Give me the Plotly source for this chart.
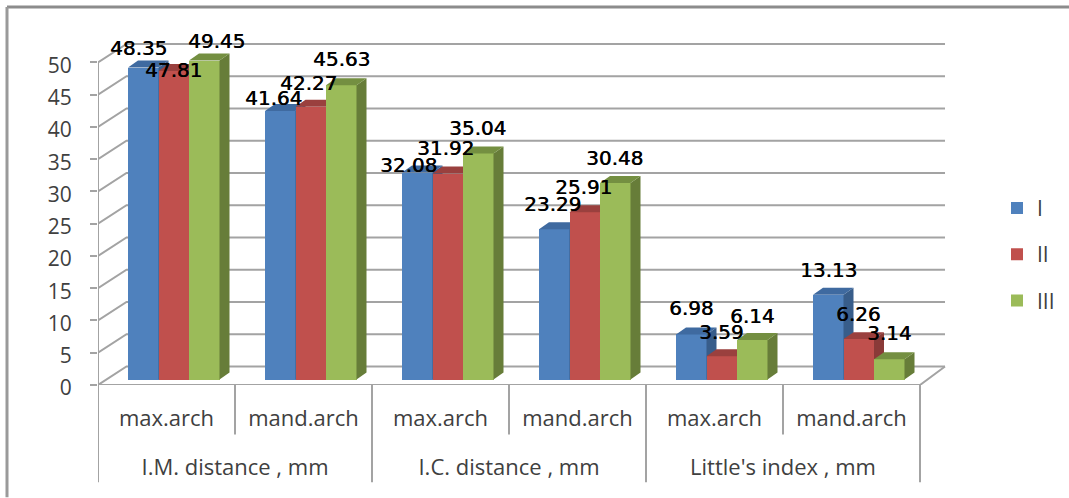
import plotly.graph_objects as go

subgroups = ["max.arch", "mand.arch", "max.arch", "mand.arch", "max.arch", "mand.arch"]
groups = ["I.M. distance , mm", "I.C. distance , mm", "Little's index , mm"]
series_names = ["I", "II", "III"]
series_I = [48.35, 41.64, 32.08, 23.29, 6.98, 13.13]
series_II = [47.81, 42.27, 31.92, 25.91, 3.59, 6.26]
series_III = [49.45, 45.63, 35.04, 30.48, 6.14, 3.14]
y_ticks = [0, 5, 10, 15, 20, 25, 30, 35, 40, 45, 50]

front_colors = ["#4F81BD", "#C0504D", "#9BBB59"]
side_colors = ["#385D8A", "#8A3A38", "#677D39"]
top_colors = ["#3F6AA0", "#9A403E", "#748F41"]

# label nudges in pixels relative to the top-centre of each bar's front face
label_dx = [-5, 0, 12, -7, -2, 0, -9, -2, -1, -2, -1, -1, 0, 0, 0, 0, 0, 0]
label_dy = [-20, -1, -20, -13, -24, -26, -8, -26, -25, -25, -25, -25, -26, -24, -24, -25, -25, -26]

W, H = 1069, 498
PX_L, PX_R, PX_T, PX_FLOOR, PX_BAR0 = 98, 948, 20, 385.5, 380
UNIT_X, UNIT_Y = 137.0, 6.46
x_range = [0, (PX_R - PX_L) / UNIT_X]
y_top = (PX_FLOOR - PX_T) / UNIT_Y
bar_bottom = -(PX_FLOOR - PX_BAR0) / UNIT_Y
bar_width = 30.5 / UNIT_X
bar_start = 30.0 / UNIT_X
side_dx, side_dy = 10.0 / UNIT_X, 7.0 / UNIT_Y
wall_dx, wall_dy = 28.5 / UNIT_X, 18.5 / UNIT_Y
wall_right = 6 + 25.0 / UNIT_X
GRID = "#A3A3A3"
TEXT = "#404040"

fig = go.Figure()

# back wall: grid lines, wall slants and floor, on the base axes (behind everything)
gx, gy = [], []
for t in y_ticks:
    gx += [0, wall_dx, wall_right, None]
    gy += [t, t + wall_dy, t + wall_dy, None]
gx += [0, 0, None, 0, 6, wall_right]
gy += [0, y_ticks[-1], None, 0, 0, wall_dy]
fig.add_trace(go.Scatter(x=gx, y=gy, mode="lines", line=dict(color=GRID, width=2),
                         hoverinfo="skip", showlegend=False, cliponaxis=False,
                         xaxis="x", yaxis="y"))

all_series = [series_I, series_II, series_III]
for s, vals in enumerate(all_series):
    xa, ya = f"x{s+2}", f"y{s+2}"
    xs = [k + bar_start + (s + 0.5) * bar_width for k in range(len(vals))]
    fig.add_trace(go.Bar(x=xs, y=vals, width=bar_width, name=series_names[s],
                         marker=dict(color=front_colors[s], line=dict(width=0)),
                         legendgroup=series_names[s], xaxis=xa, yaxis=ya,
                         cliponaxis=False, hoverinfo="skip"))
    sx, sy, tx, ty = [], [], [], []
    for xc, v in zip(xs, vals):
        xl, xr = xc - bar_width / 2, xc + bar_width / 2
        sx += [xr, xr + side_dx, xr + side_dx, xr, xr, None]
        sy += [0, side_dy, v + side_dy, v, 0, None]
        tx += [xl, xl + side_dx, xr + side_dx, xr, xl, None]
        ty += [v, v + side_dy, v + side_dy, v, v, None]
    for px, py, col in ((sx, sy, side_colors[s]), (tx, ty, top_colors[s])):
        fig.add_trace(go.Scatter(x=px, y=py, mode="lines", fill="toself", fillcolor=col,
                                 line=dict(width=0, color=col), hoverinfo="skip",
                                 showlegend=False, xaxis=xa, yaxis=ya, cliponaxis=False))

# data labels
annotations = []
i = 0
for k in range(6):
    for s, vals in enumerate(all_series):
        annotations.append(dict(
            x=k + bar_start + (s + 0.5) * bar_width, y=vals[k], xref="x4", yref="y4",
            text=f"{vals[k]:.2f}", showarrow=False, xanchor="center", yanchor="middle",
            xshift=label_dx[i], yshift=-label_dy[i],
            font=dict(family="DejaVu Sans", size=20, color="#000000",
                      shadow="0.5px 0 0 #000000")))
        i += 1

def paper_y(px):
    return (H - px - (H - PX_FLOOR)) / (PX_FLOOR - PX_T)

shapes = []
for k in range(7):
    bottom = 483 if k % 2 == 0 else 435
    shapes.append(dict(type="line", xref="x", yref="paper", x0=k, x1=k,
                       y0=paper_y(PX_FLOOR), y1=paper_y(bottom),
                       line=dict(color=GRID, width=2)))
# outer frame of the picture
shapes.append(dict(type="line", xref="paper", yref="paper",
                   x0=(7 - PX_L) / (PX_R - PX_L), x1=(W - PX_L) / (PX_R - PX_L),
                   y0=paper_y(7), y1=paper_y(7), line=dict(color="#8C8C8C", width=3)))
shapes.append(dict(type="line", xref="paper", yref="paper",
                   x0=(7 - PX_L) / (PX_R - PX_L), x1=(7 - PX_L) / (PX_R - PX_L),
                   y0=paper_y(7), y1=paper_y(H), line=dict(color="#9A9A9A", width=3)))

font_axis = dict(family="Open Sans", size=22, color=TEXT)
font_y = dict(family="Open Sans", size=21, color=TEXT)
layout = dict(
    width=W, height=H, autosize=False,
    margin=dict(l=PX_L, r=W - PX_R, t=PX_T, b=H - PX_FLOOR, pad=0, autoexpand=False),
    paper_bgcolor="white", plot_bgcolor="white",
    showlegend=True,
    bargap=0,
    annotations=annotations, shapes=shapes,
    legend=dict(x=(997 - PX_L) / (PX_R - PX_L), xanchor="left",
                y=paper_y(188), yanchor="top", tracegroupgap=16,
                bgcolor="rgba(0,0,0,0)", font=dict(family="Open Sans", size=21, color=TEXT)),
    xaxis=dict(range=x_range, domain=[0, 1], tickmode="array",
               tickvals=[k + 0.5 for k in range(6)], ticktext=subgroups,
               tickfont=font_axis, showgrid=False, zeroline=False, showline=False,
               ticks="", ticklabelstandoff=18),
    yaxis=dict(range=[0, y_top], domain=[0, 1], tickmode="array", tickvals=y_ticks,
               tickfont=font_y, showgrid=False, zeroline=False, showline=False,
               ticks="outside", ticklen=7, tickwidth=2, tickcolor=GRID,
               ticklabelstandoff=14, ticklabelshift=3),
)
for s in range(3):
    n = s + 2
    layout[f"xaxis{n}"] = dict(range=x_range, overlaying="x", domain=[0, 1],
                               visible=False, anchor=f"y{n}")
    layout[f"yaxis{n}"] = dict(range=[bar_bottom, bar_bottom + y_top], overlaying="y",
                               domain=[0, 1], visible=False, anchor=f"x{n}")
# group labels are the tick labels of the first overlay x axis
layout["xaxis2"].update(visible=True, tickmode="array", tickvals=[1, 3, 5], ticktext=groups,
                        tickfont=font_axis, showgrid=False, zeroline=False, showline=False,
                        ticks="", ticklabelstandoff=67)
fig.update_layout(**layout)
fig.write_html("out.html", config={"displayModeBar": False},
               post_script="document.body.style.margin='0';document.documentElement.style.overflow='hidden';")
